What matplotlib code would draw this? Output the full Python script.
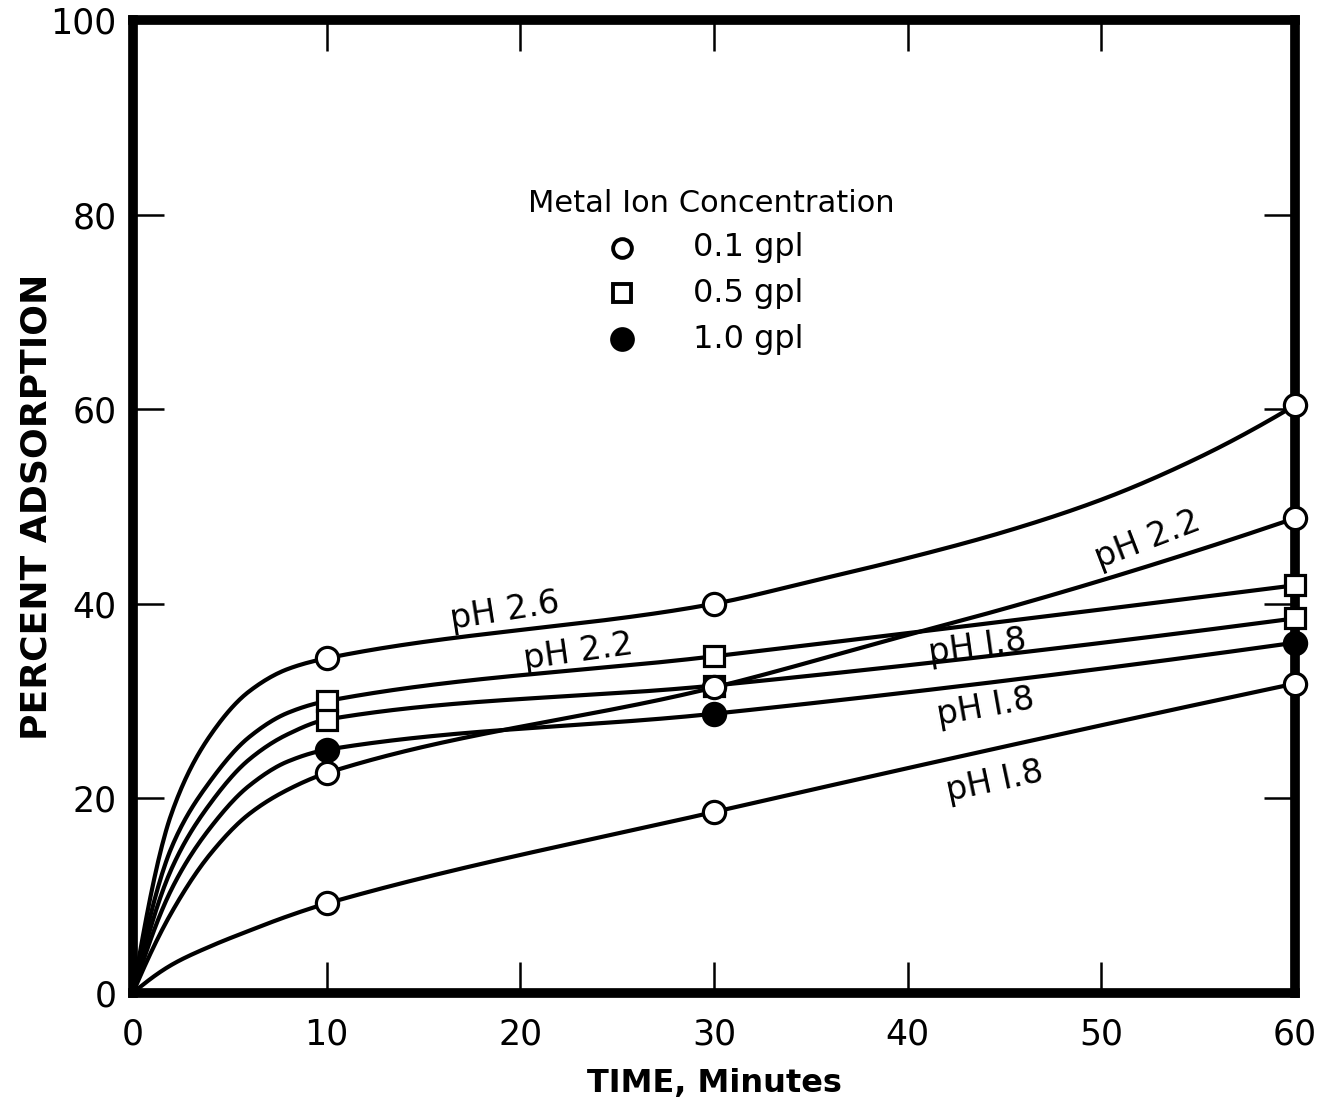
import numpy as np
import matplotlib
matplotlib.use("Agg")
import matplotlib.pyplot as plt

# Messpunkte (Zeit in Minuten, Prozent Adsorption)
t_marks = [10, 30, 60]
ph26_01 = [34.4, 40.0, 60.4]   # 0.1 gpl, pH 2.6
ph22_05 = [30.0, 34.6, 41.9]   # 0.5 gpl, pH 2.2
ph18_05 = [28.1, 31.6, 38.5]   # 0.5 gpl, pH 1.8
ph18_10 = [25.0, 28.7, 36.0]   # 1.0 gpl, pH 1.8
ph22_01 = [22.6, 31.4, 48.8]   # 0.1 gpl, pH 2.2
ph18_01 = [9.2, 18.6, 31.8]    # 0.1 gpl, pH 1.8

# Kurvenverlauf (inkl. Ursprung und Messpunkte)
c26_x = [0, 2, 4, 6, 8, 10, 30, 35, 40, 45, 50, 55, 60]
c26_y = [0, 18.5, 26.5, 31.0, 33.3, 34.4, 40.0, 42.3, 44.7, 47.4, 50.7, 55.0, 60.4]
c22s_x = [0, 2, 4, 6, 8, 10, 30, 60]
c22s_y = [0, 15.0, 21.8, 26.3, 28.8, 30.0, 34.6, 41.9]
c18s_x = [0, 2, 4, 6, 8, 10, 30, 60]
c18s_y = [0, 12.8, 19.5, 24.0, 26.6, 28.1, 31.6, 38.5]
c18f_x = [0, 2, 4, 6, 8, 10, 30, 60]
c18f_y = [0, 10.7, 17.0, 21.3, 23.8, 25.0, 28.7, 36.0]
c22c_x = [0, 2, 4, 6, 8, 10, 30, 40, 45, 50, 55, 60]
c22c_y = [0, 8.3, 14.3, 18.4, 20.9, 22.6, 31.4, 36.8, 39.5, 42.4, 45.5, 48.8]
c18c_x = [0, 2, 4, 6, 8, 10, 30, 60]
c18c_y = [0, 2.9, 4.8, 6.4, 7.9, 9.2, 18.6, 31.8]

# Beschriftungen an den Kurven: (Text, x, y, Winkel)
curve_labels = [
    ("pH 2.6", 19.2, 39.3, 9),
    ("pH 2.2", 23.0, 35.0, 8),
    ("pH 2.2", 52.4, 46.6, 21),
    ("pH I.8", 43.6, 35.6, 8),
    ("pH I.8", 44.0, 29.4, 10),
    ("pH I.8", 44.5, 21.7, 12),
]

legend_title = "Metal Ion Concentration"
legend_entries = [("o", "white", "0.1 gpl"), ("s", "white", "0.5 gpl"), ("o", "black", "1.0 gpl")]


def pchip(x, y, xs):
    '''Monotone kubische Interpolation fuer glatte Kurven.'''
    x = np.asarray(x, float)
    y = np.asarray(y, float)
    h = np.diff(x)
    d = np.diff(y) / h
    n = len(x)
    m = np.zeros(n)
    for k in range(1, n - 1):
        if d[k - 1] * d[k] > 0:
            w1 = 2 * h[k] + h[k - 1]
            w2 = h[k] + 2 * h[k - 1]
            m[k] = (w1 + w2) / (w1 / d[k - 1] + w2 / d[k])

    def end_slope(h0, h1, d0, d1):
        s = ((2 * h0 + h1) * d0 - h0 * d1) / (h0 + h1)
        if np.sign(s) != np.sign(d0):
            s = 0.0
        elif np.sign(d0) != np.sign(d1) and abs(s) > abs(3 * d0):
            s = 3 * d0
        return s

    m[0] = end_slope(h[0], h[1], d[0], d[1])
    m[-1] = end_slope(h[-1], h[-2], d[-1], d[-2])
    idx = np.clip(np.searchsorted(x, xs) - 1, 0, n - 2)
    t = (xs - x[idx]) / h[idx]
    hh = h[idx]
    return ((2 * t**3 - 3 * t**2 + 1) * y[idx] + (t**3 - 2 * t**2 + t) * hh * m[idx]
            + (-2 * t**3 + 3 * t**2) * y[idx + 1] + (t**3 - t**2) * hh * m[idx + 1])


fig = plt.figure(figsize=(13.27, 11.09), dpi=100)
ax = fig.add_axes([0.1002, 0.1046, 0.8757, 0.8774])

xs = np.linspace(0, 60, 600)
curves = [
    (c26_x, c26_y, ph26_01, "o", "white"),
    (c22s_x, c22s_y, ph22_05, "s", "white"),
    (c18s_x, c18s_y, ph18_05, "s", "white"),
    (c18f_x, c18f_y, ph18_10, "o", "black"),
    (c22c_x, c22c_y, ph22_01, "o", "white"),
    (c18c_x, c18c_y, ph18_01, "o", "white"),
]
for cx, cy, pts, mk, fc in curves:
    ax.plot(xs, pchip(cx, cy, xs), color="black", lw=3.0, zorder=3,
            solid_capstyle="round")
    ax.plot(t_marks, pts, linestyle="none", marker=mk, mfc=fc, mec="black",
            mew=2.3, ms=16 if mk == "o" else 14.5, zorder=5, clip_on=False)

for txt, lx, ly, rot in curve_labels:
    ax.text(lx, ly, txt, fontsize=24, rotation=rot, ha="center", va="center",
            rotation_mode="anchor", zorder=4)

# Legende von Hand (Eintraege mittig unter dem Titel)
ax.text(0.498, 0.811, legend_title, transform=ax.transAxes, fontsize=22,
        ha="center", va="center")
for i, (mk, fc, lab) in enumerate(legend_entries):
    yy = 0.766 - i * 0.047
    ax.plot([0.421], [yy], transform=ax.transAxes, marker=mk, mfc=fc, mec="black",
            mew=2.8, ms=13.5 if fc == "white" else 15, linestyle="none", clip_on=False)
    ax.text(0.482, yy, lab, transform=ax.transAxes, fontsize=23, ha="left", va="center")

ax.set_xlim(0, 60)
ax.set_ylim(0, 100)
ax.set_xticks([0, 10, 20, 30, 40, 50, 60])
ax.set_yticks([0, 20, 40, 60, 80, 100])
ax.tick_params(direction="in", length=22, width=1.8, top=True, right=True,
               labelsize=25, pad=12)
ax.tick_params(axis="x", pad=18)
for sp in ax.spines.values():
    sp.set_linewidth(7)
    sp.set_zorder(4.5)

ax.set_ylabel("PERCENT ADSORPTION", fontsize=26, fontweight="bold", va="center")
ax.yaxis.set_label_coords(-0.083, 0.5)
ax.set_xlabel("TIME, Minutes", fontsize=23, fontweight="bold", va="center")
ax.xaxis.set_label_coords(0.5, -0.0935)

fig.savefig("out.png", dpi=100)
